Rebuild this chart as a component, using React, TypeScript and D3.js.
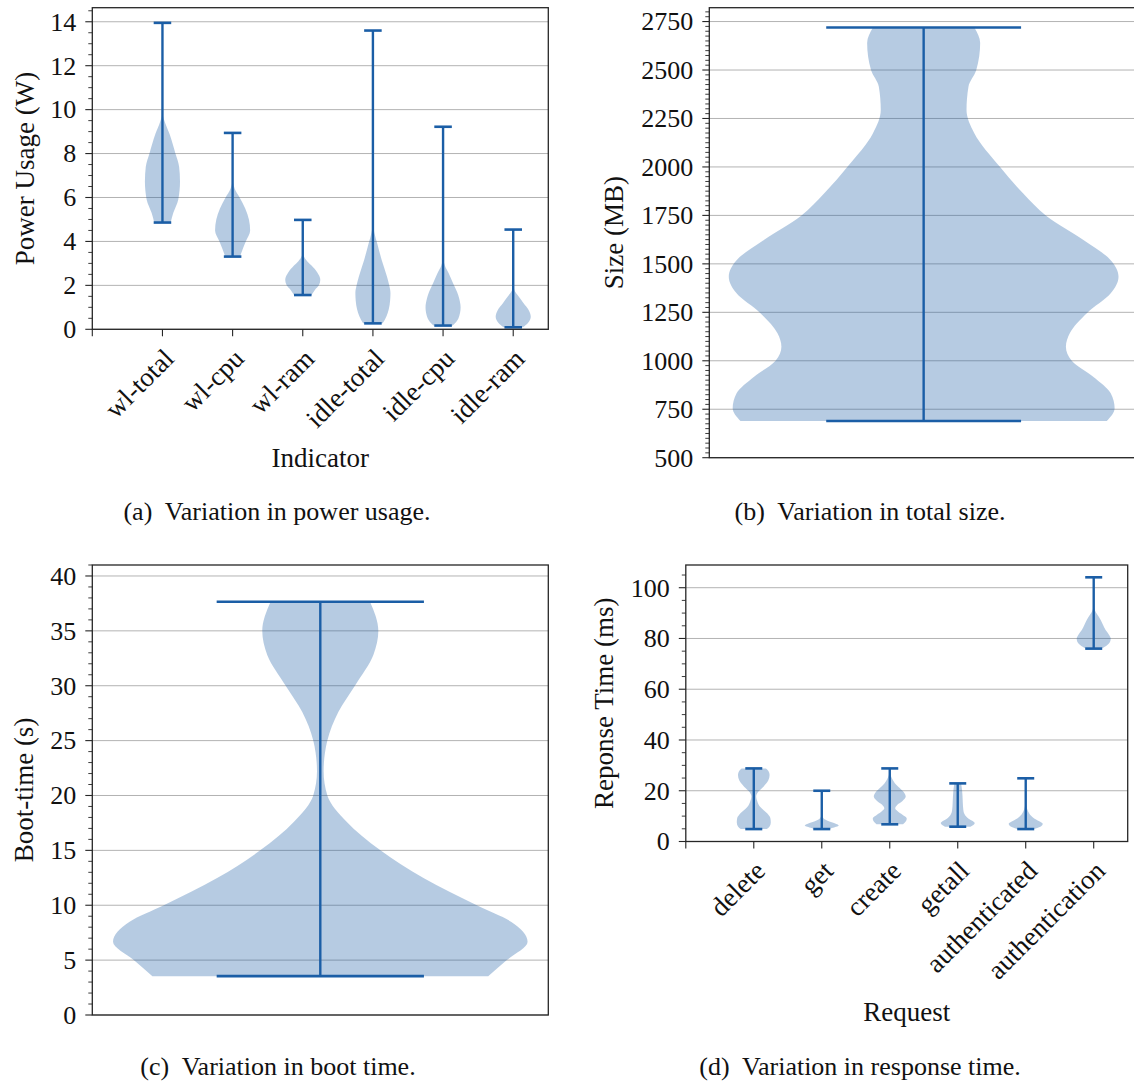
import React from 'react';
import * as d3 from 'd3';

type Prof = [number, number][];

// ---------- Panel (a): power usage ----------
const powerLabels = ['wl-total', 'wl-cpu', 'wl-ram', 'idle-total', 'idle-cpu', 'idle-ram'];
const powerMins = [4.86, 3.31, 1.56, 0.27, 0.17, 0.09];
const powerMaxs = [13.95, 8.94, 4.98, 13.6, 9.22, 4.54];
// [value, relative half-width]
const powerWlTotal: Prof = [[4.86, 0.47], [5.3, 0.62], [5.9, 0.9], [6.73, 1.0], [7.4, 0.95], [8.0, 0.74], [8.9, 0.4], [9.4, 0.15], [9.8, 0.02], [10.5, 0], [13.95, 0]];
const powerWlCpu: Prof = [[3.31, 0.42], [3.7, 0.6], [4.0, 0.75], [4.5, 1.0], [5.0, 0.93], [5.5, 0.72], [6.0, 0.4], [6.4, 0.12], [6.7, 0.02], [7.2, 0], [8.94, 0]];
const powerWlRam: Prof = [[1.56, 0.5], [1.8, 0.7], [2.0, 0.92], [2.25, 1.0], [2.6, 0.82], [2.9, 0.5], [3.1, 0.25], [3.35, 0.05], [3.6, 0], [4.98, 0]];
const powerIdleTotal: Prof = [[0.27, 0.56], [0.6, 0.78], [0.9, 0.9], [1.3, 0.98], [1.65, 1.0], [2.0, 0.93], [2.4, 0.8], [3.16, 0.5], [3.9, 0.25], [4.4, 0.08], [4.8, 0.01], [5.5, 0], [13.6, 0]];
const powerIdleCpu: Prof = [[0.17, 0.55], [0.5, 0.88], [1.0, 1.0], [1.4, 0.92], [1.7, 0.8], [2.1, 0.57], [2.55, 0.32], [2.9, 0.1], [3.2, 0.02], [3.6, 0], [9.22, 0]];
const powerIdleRam: Prof = [[0.09, 0.55], [0.3, 0.85], [0.57, 1.0], [0.85, 0.9], [1.2, 0.58], [1.5, 0.3], [1.75, 0.08], [2.0, 0.01], [2.3, 0], [4.54, 0]];
const powerProfiles = [powerWlTotal, powerWlCpu, powerWlRam, powerIdleTotal, powerIdleCpu, powerIdleRam];
const powerTicks = [0, 2, 4, 6, 8, 10, 12, 14];

// ---------- Panel (b): total size ----------
const sizeMins = [689];
const sizeMaxs = [2719];
const sizeProfile: Prof = [[689, 0.94], [755, 0.98], [832, 0.96], [918, 0.87], [1000, 0.76], [1073, 0.73], [1142, 0.75], [1248, 0.84], [1348, 0.96], [1434, 1.0], [1519, 0.96], [1623, 0.82], [1747, 0.63], [1864, 0.51], [2002, 0.39], [2174, 0.26], [2294, 0.22], [2414, 0.23], [2500, 0.27], [2640, 0.29], [2719, 0.26]];
const sizeTicks = [500, 750, 1000, 1250, 1500, 1750, 2000, 2250, 2500, 2750];

// ---------- Panel (c): boot time ----------
const bootMins = [3.54];
const bootMaxs = [37.65];
const bootProfile: Prof = [[3.54, 0.81], [5, 0.9], [6.67, 1.0], [8.5, 0.92], [10, 0.755], [12.45, 0.5], [15, 0.29], [17.6, 0.127], [20, 0.034], [22.2, 0.016], [25, 0.034], [27.6, 0.087], [30, 0.167], [32.8, 0.256], [35, 0.28], [37.65, 0.24]];
const bootTicks = [0, 5, 10, 15, 20, 25, 30, 35, 40];

// ---------- Panel (d): response time ----------
const requestLabels = ['delete', 'get', 'create', 'getall', 'authenticated', 'authentication'];
const requestMins = [4.9, 4.9, 6.77, 5.84, 4.9, 76.0];
const requestMaxs = [28.8, 20.0, 28.8, 22.9, 24.9, 104.1];
const reqDelete: Prof = [[4.9, 0.76], [5.8, 0.92], [7.5, 1.0], [9.1, 0.98], [11, 0.8], [13.7, 0.37], [16, 0.2], [17.7, 0.14], [19.5, 0.25], [21.6, 0.57], [24, 0.85], [26.2, 0.93], [27.8, 0.86], [28.8, 0.72]];
const reqGet: Prof = [[4.9, 0.45], [5.3, 0.6], [5.8, 0.85], [6.3, 1.0], [6.8, 0.9], [7.3, 0.72], [7.9, 0.45], [8.5, 0.25], [9.2, 0.1], [10, 0.03], [11, 0], [20, 0]];
const reqCreate: Prof = [[6.77, 0.78], [8, 0.95], [9.1, 1.0], [10.5, 0.75], [12, 0.45], [13.1, 0.32], [14.5, 0.45], [16, 0.75], [17.7, 0.94], [19.5, 0.82], [21.6, 0.5], [23, 0.3], [24.2, 0.18], [26, 0.06], [27.5, 0.02], [28.8, 0]];
const reqGetall: Prof = [[5.84, 0.75], [6.5, 0.92], [7.3, 1.0], [8.2, 0.85], [9.1, 0.62], [10.5, 0.42], [12.4, 0.33], [15, 0.3], [18, 0.28], [20.5, 0.25], [22.9, 0.2]];
const reqAuthenticated: Prof = [[4.9, 0.5], [5.5, 0.75], [6.4, 0.97], [7.0, 1.0], [7.8, 0.85], [9.1, 0.5], [10.2, 0.3], [11.1, 0.2], [12.5, 0.1], [13.7, 0.05], [15.5, 0.01], [17, 0], [24.9, 0]];
const reqAuthentication: Prof = [[76, 0.47], [77.4, 0.8], [79, 0.98], [80, 1.0], [81.5, 0.9], [83.3, 0.7], [85.3, 0.55], [87.3, 0.41], [89.3, 0.22], [91.2, 0.06], [93, 0.01], [95, 0], [104.1, 0]];
const requestProfiles = [reqDelete, reqGet, reqCreate, reqGetall, reqAuthenticated, reqAuthentication];
const requestTicks = [0, 20, 40, 60, 80, 100];

const FONT = '"Liberation Serif", "Times New Roman", serif';
const COLOR = '#1b5ea6';
const TXT = '#111';

interface Spec {
  left: number; right: number; top: number; bottom: number;
  xDomain: [number, number]; yDomain: [number, number];
  positions: number[]; mins: number[]; maxs: number[]; profiles: Prof[];
  ticks: number[]; minorStep: number;
  xTickPos: number[]; xTickLabels: string[];
  yLabel: string; yLabelX: number;
  xLabel?: string; xLabelY?: number;
  capLetter: string; caption: string; captionX: number; captionY: number;
}

function Panel({ s }: { s: Spec }) {
  const x = d3.scaleLinear().domain(s.xDomain).range([s.left, s.right]);
  const y = d3.scaleLinear().domain(s.yDomain).range([s.bottom, s.top]);
  const halfW = 0.25;
  const capHalf = 0.125;
  const minor = d3.range(s.yDomain[0], s.yDomain[1] + 1e-9, s.minorStep).filter(v => !s.ticks.some(t => Math.abs(t - v) < 1e-6));
  const cy = (s.top + s.bottom) / 2;
  const cx = (s.left + s.right) / 2;
  return (
    <g>
      {s.ticks.map(t => (
        <line key={'g' + t} x1={s.left} x2={s.right} y1={y(t)} y2={y(t)} stroke="#b3b3b3" strokeWidth={1} />
      ))}
      {s.profiles.map((p, i) => {
        const pos = s.positions[i];
        const area = d3.area<[number, number]>()
          .y(d => y(d[0]))
          .x0(d => x(pos - halfW * d[1]))
          .x1(d => x(pos + halfW * d[1]))
          .curve(d3.curveMonotoneY);
        return (
          <g key={'v' + i}>
            <path d={area(p) || ''} fill={COLOR} fillOpacity={0.32} stroke="none" />
            <line x1={x(pos)} x2={x(pos)} y1={y(s.mins[i])} y2={y(s.maxs[i])} stroke={COLOR} strokeWidth={2.4} />
            <line x1={x(pos - capHalf)} x2={x(pos + capHalf)} y1={y(s.maxs[i])} y2={y(s.maxs[i])} stroke={COLOR} strokeWidth={2.6} />
            <line x1={x(pos - capHalf)} x2={x(pos + capHalf)} y1={y(s.mins[i])} y2={y(s.mins[i])} stroke={COLOR} strokeWidth={2.6} />
          </g>
        );
      })}
      <rect x={s.left} y={s.top} width={s.right - s.left} height={s.bottom - s.top} fill="none" stroke="#262626" strokeWidth={1.3} />
      {s.ticks.map(t => (
        <g key={'t' + t}>
          <line x1={s.left - 7} x2={s.left} y1={y(t)} y2={y(t)} stroke="#262626" strokeWidth={1.1} />
          <text x={s.left - 16} y={y(t)} dy="0.34em" textAnchor="end" fontFamily={FONT} fontSize={26} fill={TXT}>{String(t)}</text>
        </g>
      ))}
      {minor.map(t => (
        <line key={'m' + t} x1={s.left - 4} x2={s.left} y1={y(t)} y2={y(t)} stroke="#262626" strokeWidth={0.9} />
      ))}
      {s.xTickPos.map(p => (
        <line key={'xt' + p} x1={x(p)} x2={x(p)} y1={s.bottom} y2={s.bottom + 7} stroke="#262626" strokeWidth={1.1} />
      ))}
      {s.xTickLabels.map((lab, i) => {
        const px = x(s.positions[i]) + 13;
        const py = s.bottom + 31;
        return (
          <text key={'xl' + i} x={px} y={py} textAnchor="end" transform={`rotate(-45 ${px} ${py})`} fontFamily={FONT} fontSize={27} fill={TXT}>{lab}</text>
        );
      })}
      <text x={s.yLabelX} y={cy} textAnchor="middle" dominantBaseline="central" transform={`rotate(-90 ${s.yLabelX} ${cy})`} fontFamily={FONT} fontSize={27} fill={TXT}>{s.yLabel}</text>
      {s.xLabel && (
        <text x={cx} y={s.xLabelY} textAnchor="middle" fontFamily={FONT} fontSize={27} fill={TXT}>{s.xLabel}</text>
      )}
      <text x={s.captionX} y={s.captionY} textAnchor="middle" fontFamily={FONT} fontSize={26} fill={TXT}>{s.capLetter + '\u00a0 ' + s.caption}</text>
    </g>
  );
}

const specs: Spec[] = [
  {
    left: 92.3, right: 548.3, top: 7.7, bottom: 329.3,
    xDomain: [0, 6.5], yDomain: [0, 14.64],
    positions: [1, 2, 3, 4, 5, 6], mins: powerMins, maxs: powerMaxs, profiles: powerProfiles,
    ticks: powerTicks, minorStep: 0.5,
    xTickPos: [0, 1, 2, 3, 4, 5, 6], xTickLabels: powerLabels,
    yLabel: 'Power Usage (W)', yLabelX: 25,
    xLabel: 'Indicator', xLabelY: 466.5,
    capLetter: '(a)', caption: 'Variation in power usage.', captionX: 277, captionY: 520,
  },
  {
    left: 709.3, right: 1138, top: 7.7, bottom: 457.7,
    xDomain: [0.725, 1.275], yDomain: [500, 2821.5],
    positions: [1], mins: sizeMins, maxs: sizeMaxs, profiles: [sizeProfile],
    ticks: sizeTicks, minorStep: 25,
    xTickPos: [], xTickLabels: [],
    yLabel: 'Size (MB)', yLabelX: 614,
    capLetter: '(b)', caption: 'Variation in total size.', captionX: 870, captionY: 520,
  },
  {
    left: 92.3, right: 548.3, top: 565, bottom: 1015,
    xDomain: [0.725, 1.275], yDomain: [0, 41],
    positions: [1], mins: bootMins, maxs: bootMaxs, profiles: [bootProfile],
    ticks: bootTicks, minorStep: 1,
    xTickPos: [], xTickLabels: [],
    yLabel: 'Boot-time (s)', yLabelX: 23.5,
    capLetter: '(c)', caption: 'Variation in boot time.', captionX: 278, captionY: 1075,
  },
  {
    left: 685.8, right: 1127.7, top: 565, bottom: 841.5,
    xDomain: [0, 6.5], yDomain: [0, 108.95],
    positions: [1, 2, 3, 4, 5, 6], mins: requestMins, maxs: requestMaxs, profiles: requestProfiles,
    ticks: requestTicks, minorStep: 5,
    xTickPos: [0, 1, 2, 3, 4, 5, 6], xTickLabels: requestLabels,
    yLabel: 'Reponse Time (ms)', yLabelX: 604,
    xLabel: 'Request', xLabelY: 1021,
    capLetter: '(d)', caption: 'Variation in response time.', captionX: 860, captionY: 1075,
  },
];

export default function App() {
  return (
    <svg width={1134} height={1084} style={{ position: 'absolute', left: 0, top: 0, display: 'block', background: '#fff' }}>
      <rect x={0} y={0} width={1134} height={1084} fill="#fff" />
      {specs.map((s, i) => <Panel key={i} s={s} />)}
    </svg>
  );
}
